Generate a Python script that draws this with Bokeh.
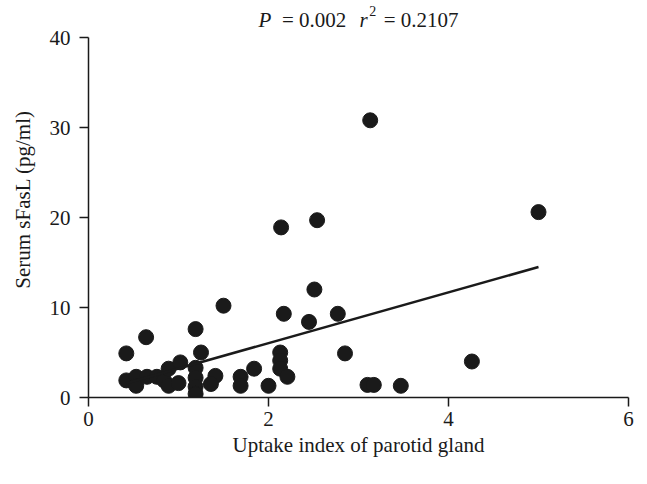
from bokeh.plotting import figure
from bokeh.models import Label, Range1d, FixedTicker, ColumnDataSource
from bokeh.embed import file_html
from bokeh.resources import INLINE

uptake_index = [0.42, 0.42, 0.64, 0.53, 0.53, 0.65, 0.76, 0.84, 0.89, 0.89, 1.00, 1.02,
                1.19, 1.25, 1.19, 1.19, 1.19, 1.19, 1.41, 1.36, 1.50, 1.69, 1.69, 1.84,
                2.00, 2.13, 2.13, 2.13, 2.21, 2.14, 2.54, 2.51, 2.17, 2.45, 2.77, 2.85,
                3.10, 3.17, 3.13, 3.47, 4.26, 5.00]
serum_sfasl = [4.9, 1.9, 6.7, 2.3, 1.3, 2.3, 2.3, 1.9, 3.2, 1.3, 1.6, 3.9,
               7.6, 5.0, 3.3, 2.2, 1.2, 0.4, 2.4, 1.5, 10.2, 2.3, 1.3, 3.2,
               1.3, 5.0, 4.1, 3.2, 2.3, 18.9, 19.7, 12.0, 9.3, 8.4, 9.3, 4.9,
               1.4, 1.4, 30.8, 1.3, 4.0, 20.6]
fit_intercept = 0.4
fit_slope = 2.82
x_ticks = [0, 2, 4, 6]
y_ticks = [0, 10, 20, 30, 40]

FONT = "Liberation Serif"
INK = "#1a1a1a"
FS = "21px"

p = figure(width=647, height=484, output_backend="svg", toolbar_location=None,
           x_range=Range1d(0, 6), y_range=Range1d(0, 44),
           min_border_left=88, min_border_right=19, min_border_top=1, min_border_bottom=87)
p.outline_line_color = None
p.xgrid.visible = False
p.ygrid.visible = False
p.background_fill_color = "white"
p.border_fill_color = "white"

for ax in (p.xaxis[0], p.yaxis[0]):
    ax.axis_line_color = INK
    ax.axis_line_width = 1.5
    ax.major_tick_line_color = INK
    ax.major_tick_line_width = 1.5
    ax.major_tick_in = 0
    ax.major_tick_out = 9
    ax.minor_tick_line_color = None
    ax.major_label_text_font = FONT
    ax.major_label_text_font_size = FS
    ax.major_label_text_color = INK
    ax.axis_label_text_font = FONT
    ax.axis_label_text_font_size = FS
    ax.axis_label_text_font_style = "normal"
    ax.axis_label_text_color = INK

p.xaxis.ticker = FixedTicker(ticks=x_ticks)
p.yaxis.ticker = FixedTicker(ticks=y_ticks)
p.yaxis.bounds = (0, 40)
p.xaxis.axis_label = "Uptake index of parotid gland"
p.yaxis.axis_label = "Serum sFasL (pg/ml)"
p.xaxis.major_label_standoff = 5
p.yaxis.major_label_standoff = 9
p.xaxis.axis_label_standoff = 4
p.yaxis.axis_label_standoff = 12

src = ColumnDataSource(dict(x=uptake_index, y=serum_sfasl))
p.scatter("x", "y", source=src, size=15, fill_color=INK, line_color=INK)

x0, x1 = min(uptake_index), max(uptake_index)
p.line([x0, x1], [fit_intercept + fit_slope * x0, fit_intercept + fit_slope * x1],
       line_color=INK, line_width=2.5)

base_y = 42.0
parts = [
    (1.89, base_y, "P", "italic", FS),
    (2.15, base_y, "= 0.002", "normal", FS),
    (3.01, base_y, "r", "italic", FS),
    (3.12, base_y + 1.0, "2", "normal", "14px"),
    (3.28, base_y, "= 0.2107", "normal", FS),
]
for px, py, txt, style, size in parts:
    p.add_layout(Label(x=px, y=py, text=txt, text_font=FONT, text_font_style=style,
                       text_font_size=size, text_color=INK, text_align="left",
                       text_baseline="alphabetic"))

open("out.html", "w").write(file_html(p, INLINE))
